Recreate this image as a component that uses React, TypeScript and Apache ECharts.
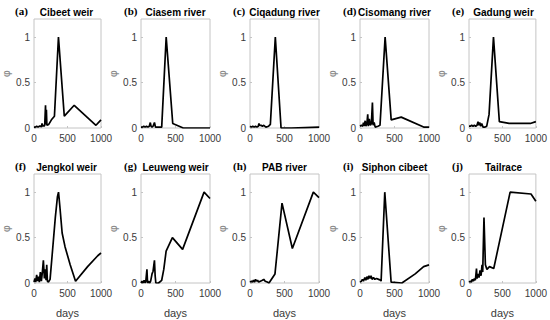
import React, { useEffect, useRef } from "react";
import * as echarts from "echarts";

const panelLetters = ["(a)", "(b)", "(c)", "(d)", "(e)", "(f)", "(g)", "(h)", "(i)", "(j)"];
const panelTitles = [
  "Cibeet weir", "Ciasem river", "Ciqadung river", "Cisomang river", "Gadung weir",
  "Jengkol weir", "Leuweng weir", "PAB river", "Siphon cibeet", "Tailrace",
];
const xTicks = [0, 500, 1000];
const yTicks = [0, 0.5, 1];

const cibeetWeir = [[0,0.01],[20,0.01],[40,0.02],[60,0.01],[80,0.02],[100,0.02],[110,0.01],[120,0.05],[130,0.02],[140,0.03],[150,0.02],[160,0.03],[172,0.25],[178,0.04],[185,0.2],[192,0.03],[220,0.04],[260,0.09],[305,0.13],[365,1.0],[452,0.13],[600,0.25],[925,0.03],[1000,0.09]];
const ciasemRiver = [[0,0.01],[20,0.01],[40,0.02],[60,0.01],[80,0.02],[100,0.01],[120,0.02],[135,0.06],[145,0.02],[160,0.01],[175,0.02],[195,0.06],[210,0.01],[240,0.01],[300,0.01],[365,1.0],[460,0.05],[612,0.0],[800,0.0],[1000,0.0]];
const ciqadungRiver = [[0,0.02],[20,0.01],[40,0.02],[60,0.01],[80,0.02],[100,0.01],[120,0.02],[130,0.05],[140,0.03],[160,0.03],[180,0.02],[200,0.03],[230,0.01],[270,0.02],[295,0.04],[367,1.0],[450,0.0],[600,0.0],[800,0.005],[1000,0.01]];
const cisomangRiver = [[0,0.02],[20,0.03],[40,0.02],[50,0.06],[60,0.02],[75,0.08],[85,0.02],[100,0.05],[112,0.15],[120,0.02],[135,0.1],[150,0.03],[165,0.05],[180,0.28],[190,0.03],[205,0.06],[220,0.01],[260,0.02],[290,0.03],[364,1.0],[452,0.09],[597,0.12],[922,0.01],[1000,0.01]];
const gadungWeir = [[0,0.02],[20,0.02],[40,0.03],[60,0.02],[80,0.03],[100,0.02],[120,0.03],[135,0.07],[145,0.03],[160,0.06],[175,0.02],[190,0.05],[210,0.01],[240,0.01],[265,0.02],[300,0.15],[366,1.0],[454,0.07],[600,0.05],[917,0.05],[1000,0.07]];
const jengkolWeir = [[0,0.01],[15,0.05],[25,0.01],[40,0.09],[50,0.02],[65,0.07],[80,0.01],[95,0.12],[110,0.02],[125,0.12],[140,0.25],[155,0.05],[170,0.15],[180,0.03],[190,0.2],[200,0.02],[215,0.01],[240,0.04],[270,0.3],[318,0.72],[350,0.95],[366,1.0],[385,0.85],[420,0.55],[463,0.4],[540,0.2],[620,0.02],[800,0.18],[951,0.3],[1000,0.33]];
const leuwengWeir = [[0,0.0],[15,0.02],[30,0.0],[45,0.03],[60,0.0],[70,0.02],[86,0.15],[95,0.0],[110,0.02],[125,0.0],[140,0.02],[160,0.1],[175,0.13],[195,0.25],[205,0.08],[215,0.0],[254,0.0],[300,0.03],[330,0.15],[364,0.35],[455,0.5],[603,0.37],[914,1.0],[1000,0.93]];
const pabRiver = [[0,0.01],[20,0.02],[35,0.01],[50,0.03],[65,0.01],[80,0.04],[95,0.02],[110,0.03],[125,0.01],[150,0.02],[180,0.03],[200,0.04],[220,0.02],[250,0.01],[275,0.0],[362,0.1],[464,0.88],[614,0.38],[918,1.0],[1000,0.94]];
const siphonCibeet = [[0,0.01],[20,0.02],[35,0.04],[50,0.02],[70,0.06],[85,0.03],[100,0.07],[115,0.04],[130,0.08],[145,0.05],[160,0.08],[175,0.04],[195,0.06],[215,0.04],[240,0.05],[270,0.04],[300,0.03],[306,0.02],[359,1.0],[451,0.01],[607,0.0],[800,0.1],[922,0.18],[1000,0.2]];
const tailrace = [[0,0.01],[20,0.02],[35,0.01],[50,0.04],[65,0.02],[80,0.05],[95,0.03],[112,0.16],[120,0.05],[135,0.1],[150,0.06],[165,0.14],[180,0.08],[195,0.2],[205,0.12],[224,0.72],[245,0.2],[268,0.15],[307,0.18],[370,0.16],[615,1.0],[927,0.98],[1000,0.9]];

const panelData = [cibeetWeir, ciasemRiver, ciqadungRiver, cisomangRiver, gadungWeir, jengkolWeir, leuwengWeir, pabRiver, siphonCibeet, tailrace];

export default function App() {
  const ref = useRef<HTMLDivElement>(null);
  useEffect(() => {
    if (!ref.current) return;
    const chart = echarts.init(ref.current, null, { renderer: "svg" });
    const lefts = [32, 141, 250, 360, 469];
    const tops = [19, 174];
    const W = 69, H = 109;
    const grids: any[] = [], xAxes: any[] = [], yAxes: any[] = [], series: any[] = [], graphics: any[] = [];
    panelData.forEach((d, i) => {
      const col = i % 5, row = Math.floor(i / 5);
      const left = lefts[col], top = tops[row];
      grids.push({ left, top, width: W, height: H, show: true, borderColor: "#c4c4c4", borderWidth: 1, backgroundColor: "#fff" });
      xAxes.push({
        type: "value", gridIndex: i, min: 0, max: 1000, interval: 500,
        axisLine: { show: false },
        axisTick: { show: true, inside: true, length: 2, lineStyle: { color: "#c4c4c4" } },
        splitLine: { show: false },
        axisLabel: { fontSize: 10, color: "#3a3a3a", fontFamily: "Arial, Liberation Sans", margin: 5, formatter: (v: number) => (xTicks.includes(v) ? String(v) : "") },
        name: row === 1 ? "days" : "", nameLocation: "middle", nameGap: 24,
        nameTextStyle: { fontSize: 11, color: "#3a3a3a", fontFamily: "Arial, Liberation Sans" },
      });
      yAxes.push({
        type: "value", gridIndex: i, min: 0, max: 1.2, interval: 0.5,
        axisLine: { show: false },
        axisTick: { show: true, inside: true, length: 2, lineStyle: { color: "#c4c4c4" } },
        splitLine: { show: false },
        axisLabel: { fontSize: 10, color: "#3a3a3a", fontFamily: "Arial, Liberation Sans", margin: 4, showMaxLabel: false, formatter: (v: number) => (yTicks.includes(v) ? String(v) : "") },
        name: "φ", nameLocation: "middle", nameGap: 22, nameRotate: 90,
        nameTextStyle: { fontSize: 11, color: "#8a8a8a", fontFamily: "DejaVu Sans" },
      });
      series.push({
        type: "line", xAxisIndex: i, yAxisIndex: i, data: d, showSymbol: false, symbol: "none",
        lineStyle: { color: "#000", width: 1.7 }, clip: true,
      });
      graphics.push({
        type: "text", x: left + W / 2, y: top - 7,
        style: { text: panelTitles[i], fill: "#000", font: "bold 10px Arial, Liberation Sans", textAlign: "center", textVerticalAlign: "middle" },
      });
      graphics.push({
        type: "text", x: left - 17, y: top - 8,
        style: { text: panelLetters[i], fill: "#000", font: "bold 11px 'Liberation Serif', 'DejaVu Serif', serif", textAlign: "left", textVerticalAlign: "middle" },
      });
    });
    chart.setOption({
      animation: false,
      backgroundColor: "#fff",
      grid: grids, xAxis: xAxes, yAxis: yAxes, series, graphic: graphics,
    });
    return () => chart.dispose();
  }, []);
  return <div ref={ref} style={{ position: "fixed", left: 0, top: 0, width: 550, height: 320 }} />;
}
